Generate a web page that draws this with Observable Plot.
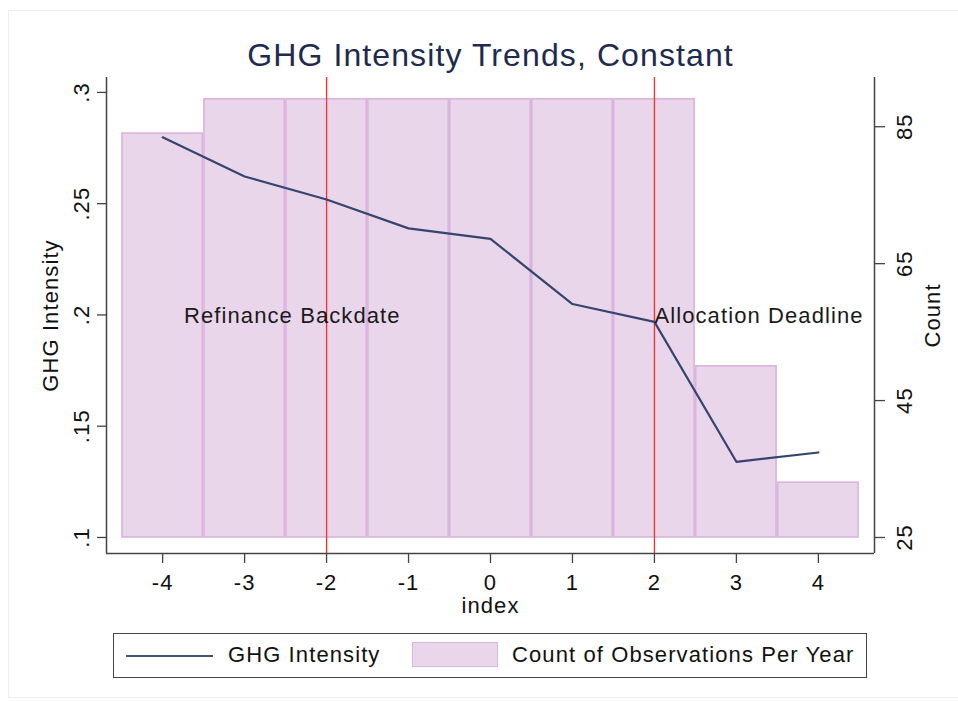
<!DOCTYPE html>
<html>
<head>
<meta charset="utf-8">
<script src="https://cdn.jsdelivr.net/npm/d3@7"></script>
<script src="https://cdn.jsdelivr.net/npm/@observablehq/plot@0.6"></script>
<style>
  html, body { margin: 0; padding: 0; background: #fff; }
  #wrap { position: relative; width: 958px; height: 701px; overflow: hidden; font-family: "Liberation Sans", Arial, sans-serif; }
  .layer { position: absolute; left: 0; top: 0; }
  #outer { position: absolute; left: 8px; top: 10px; width: 960px; height: 686px; border: 1px solid #eeeeee; }
  #legend { position: absolute; left: 113px; top: 633px; width: 752px; height: 43px; border: 1px solid #444; background: #fff; font-size: 22px; letter-spacing: 1.1px; color: #111; }
  #legend .ln { position: absolute; left: 12px; top: 21px; width: 87px; height: 0; border-top: 2px solid #3e5679; }
  #legend .sw { position: absolute; left: 298px; top: 8px; width: 84px; height: 23px; background: #ead6ea; border: 1.5px solid #dbb8de; }
  #legend .t { position: absolute; top: 8px; line-height: 26px; white-space: nowrap; }
</style>
</head>
<body>
<div id="wrap">
  <div id="outer"></div>
</div>
<script>
// ---- data ----
const indexValues = [-4, -3, -2, -1, 0, 1, 2, 3, 4];
const ghgIntensity = [0.2798, 0.2622, 0.2519, 0.2389, 0.2342, 0.2049, 0.1969, 0.1340, 0.1382];
const obsCount = [84, 89, 89, 89, 89, 89, 89, 50, 33];
const countBase = 25;

const leftTicks = [0.1, 0.15, 0.2, 0.25, 0.3];
const leftTickLabels = [".1", ".15", ".2", ".25", ".3"];
const rightTicks = [25, 45, 65, 85];
const rightTickLabels = ["25", "45", "65", "85"];
const xTicks = [-4, -3, -2, -1, 0, 1, 2, 3, 4];
const xTickLabels = ["-4", "-3", "-2", "-1", "0", "1", "2", "3", "4"];

const eventX = [-2, 2];
const eventLabels = ["Refinance Backdate", "Allocation Deadline"];
const eventLabelX = [-3.74, 2.0];
const eventLabelY = [0.1995, 0.1995];

const titleText = "GHG Intensity Trends, Constant";
const yLeftLabel = "GHG Intensity";
const yRightLabel = "Count";
const xLabel = "index";
const legendLabels = ["GHG Intensity", "Count of Observations Per Year"];

// ---- scales / layout ----
const xDomain = [-4.685, 4.685];
const yDomain = [0.0928, 0.3067];
const countDomain = [22.66, 92.19];

const W = 958, H = 625;
const M = {marginLeft: 106, marginRight: 84, marginTop: 77, marginBottom: 72};
const FONT = "'Liberation Sans', Arial, sans-serif";

const lineData = indexValues.map((x, i) => ({x, y: ghgIntensity[i]}));
const barData = indexValues.map((x, i) => ({x, c: obsCount[i]}));
const annData = eventLabels.map((t, i) => ({t, x: eventLabelX[i], y: eventLabelY[i]}));
const leftTickData = leftTicks.map((v, i) => ({v, t: leftTickLabels[i]}));
const rightTickData = rightTicks.map((v, i) => ({v, t: rightTickLabels[i]}));
const xTickData = xTicks.map((v, i) => ({v, t: xTickLabels[i]}));

const wrapEl = document.getElementById("wrap");

// Bottom layer: bars + right (count) axis
const bottomPlot = Plot.plot({
  width: W, height: H, ...M,
  x: {domain: xDomain, axis: null},
  y: {domain: countDomain, axis: null},
  style: {background: "transparent", fontFamily: FONT, fontSize: "22px", letterSpacing: "1.1px", color: "#111"},
  marks: [
    Plot.rect(barData, {
      x1: d => d.x - 0.5, x2: d => d.x + 0.5, y1: () => countBase, y2: "c",
      fill: "#ead6ea", stroke: "#d9b4dc", strokeWidth: 1.6, insetLeft: 0.8, insetRight: 0.8
    }),
    Plot.axisY({anchor: "right", ticks: rightTicks, tickSize: 10, tickFormat: () => "", stroke: "#444", strokeWidth: 1.3, label: null}),
    Plot.text(rightTickData, {y: "v", text: "t", frameAnchor: "right", dx: 30, rotate: -90, textAnchor: "middle", lineAnchor: "middle", fill: "#111"}),
    Plot.text([yRightLabel], {frameAnchor: "right", dx: 58, rotate: -90, textAnchor: "middle", lineAnchor: "middle", fill: "#111"})
  ]
});
bottomPlot.classList.add("layer");
wrapEl.appendChild(bottomPlot);

// Top layer: frame, event rules, line, annotations, left & x axes, title
const topPlot = Plot.plot({
  width: W, height: H, ...M,
  x: {domain: xDomain, axis: null},
  y: {domain: yDomain, axis: null},
  style: {background: "transparent", fontFamily: FONT, fontSize: "22px", letterSpacing: "1.1px", color: "#111"},
  marks: [
    Plot.ruleX([xDomain[0], xDomain[1]], {stroke: "#444", strokeWidth: 1.5}),
    Plot.ruleY([yDomain[0]], {stroke: "#444", strokeWidth: 1.5}),
    Plot.ruleX(eventX, {stroke: "#ff2b2b", strokeWidth: 1.3}),
    Plot.line(lineData, {x: "x", y: "y", stroke: "#34456f", strokeWidth: 2.2}),
    Plot.text(annData, {x: "x", y: "y", text: "t", textAnchor: "start", lineAnchor: "middle", fill: "#1a1a1a"}),
    Plot.axisY({anchor: "left", ticks: leftTicks, tickSize: 9, tickFormat: () => "", stroke: "#444", strokeWidth: 1.3, label: null}),
    Plot.text(leftTickData, {y: "v", text: "t", frameAnchor: "left", dx: -25, rotate: -90, textAnchor: "middle", lineAnchor: "middle", fill: "#111"}),
    Plot.text([yLeftLabel], {frameAnchor: "left", dx: -56, rotate: -90, textAnchor: "middle", lineAnchor: "middle", fill: "#111"}),
    Plot.axisX({anchor: "bottom", ticks: xTicks, tickSize: 10, tickFormat: () => "", stroke: "#444", strokeWidth: 1.3, label: null}),
    Plot.text(xTickData, {x: "v", text: "t", frameAnchor: "bottom", dy: 29, textAnchor: "middle", lineAnchor: "middle", fill: "#111"}),
    Plot.text([xLabel], {frameAnchor: "bottom", dy: 52, textAnchor: "middle", lineAnchor: "middle", fill: "#111"}),
    Plot.text([titleText], {frameAnchor: "top", dy: -21.6, textAnchor: "middle", lineAnchor: "middle", fontSize: 32, fill: "#1e2a4f", letterSpacing: 1.0})
  ]
});
topPlot.classList.add("layer");
wrapEl.appendChild(topPlot);

// Legend
const legendEl = document.createElement("div");
legendEl.id = "legend";
legendEl.innerHTML =
  '<div class="ln"></div><div class="t" style="left:114px"></div>' +
  '<div class="sw"></div><div class="t" style="left:398px"></div>';
const legendTexts = legendEl.querySelectorAll(".t");
legendTexts[0].textContent = legendLabels[0];
legendTexts[1].textContent = legendLabels[1];
wrapEl.appendChild(legendEl);
</script>
</body>
</html>
